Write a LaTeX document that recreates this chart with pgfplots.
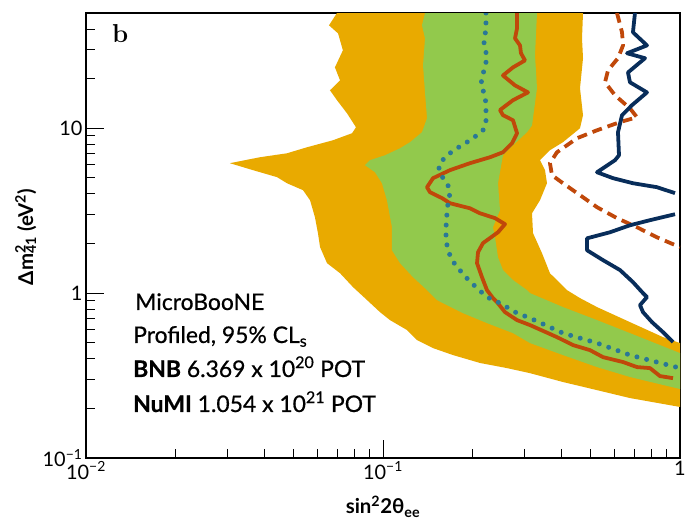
\documentclass[border=0pt]{standalone}
\usepackage{pgfplots}
\pgfplotsset{compat=1.18}
\usepackage{fontspec}
\newfontfamily\lato[FakeBold=0.6]{Lato}
\newfontfamily\latolab{Lato}

\definecolor{bandtwo}{RGB}{233,170,0}
\definecolor{bandone}{RGB}{146,201,76}
\definecolor{obsred}{RGB}{192,72,10}
\definecolor{navy}{RGB}{8,45,90}
\definecolor{medteal}{RGB}{42,120,150}

\begin{document}
\begin{tikzpicture}
\begin{axis}[
  scale only axis, width=594bp, height=445bp,
  xmode=log, ymode=log,
  xmin=0.01, xmax=1, ymin=0.1, ymax=50,
  axis line style={line width=1.1pt, black},
  tick align=inside, xtick pos=bottom, ytick pos=left,
  major tick length=18bp, minor tick length=9bp,
  every tick/.style={black, line width=0.9pt},
  xtick={0.01,0.1,1},
  xticklabels={10\textsuperscript{−2},10\textsuperscript{−1},1},
  ytick={0.1,1,10},
  yticklabels={10\textsuperscript{−1},1,10},
  minor xtick={0.02,0.03,0.04,0.05,0.06,0.07,0.08,0.09,0.2,0.3,0.4,0.5,0.6,0.7,0.8,0.9},
  minor ytick={0.2,0.3,0.4,0.5,0.6,0.7,0.8,0.9,2,3,4,5,6,7,8,9,20,30,40},
  tick label style={font=\latolab\fontsize{20}{22}\selectfont},
  xlabel={sin\textsuperscript{2}2θ\textsubscript{ee}},
  ylabel={Δm\rlap{\textsuperscript{2}}\textsubscript{41} (eV\textsuperscript{2})},
  label style={font=\latolab\bfseries\fontsize{20.5}{23}\selectfont},
  xlabel style={at={(axis description cs:0.5,-0.1258)}, anchor=base},
  ylabel style={at={(axis description cs:-0.0892,0.4966)}, anchor=base},
]
% 2 sigma expected band
\addplot[fill=bandtwo, draw=none] coordinates {
(0.0700,50) (0.0658,42.1) (0.0706,37.6) (0.0733,29.7) (0.0689,23.4) (0.0717,19.5)
(0.0663,17.0) (0.0700,14.8) (0.0757,12.3) (0.0811,10.14) (0.0787,9.33) (0.0679,8.46)
(0.0555,7.67) (0.0475,7.05) (0.0385,6.67) (0.0305,6.14) (0.0365,5.57) (0.0440,5.05)
(0.0475,4.64) (0.0538,4.21) (0.0568,3.66) (0.0590,2.89) (0.0604,2.31) (0.0614,1.90)
(0.0648,1.52) (0.0717,1.32) (0.0793,1.087) (0.0884,0.907) (0.0977,0.767) (0.1056,0.686)
(0.1205,0.597) (0.1302,0.519) (0.1474,0.464) (0.1721,0.421) (0.2122,0.377) (0.2615,0.351)
(0.3126,0.327) (0.4036,0.289) (0.5255,0.258) (0.6785,0.231) (1.0,0.204)
(1.0,0.498) (0.8765,0.541) (0.6785,0.667) (0.5255,0.823) (0.4606,0.933) (0.4164,1.043)
(0.3650,1.32) (0.3430,1.75) (0.3200,2.31) (0.3175,3.05) (0.3378,3.66) (0.3566,4.64)
(0.3512,5.57) (0.3378,6.40) (0.3650,7.36) (0.4036,8.23) (0.4606,10.0) (0.4715,12.0)
(0.4606,17.5) (0.4715,26.6) (0.4678,35.1) (0.4715,50)
};
% 1 sigma expected band
\addplot[fill=bandone, draw=none] coordinates {
(0.1385,50) (0.1353,42.1) (0.1385,35.1) (0.1364,24.1) (0.1385,16.5) (0.1407,11.5)
(0.1353,9.46) (0.1233,8.23) (0.1141,7.56) (0.1016,6.86) (0.0904,6.40) (0.0870,5.97)
(0.0940,5.41) (0.0992,4.64) (0.1031,3.66) (0.1072,2.51) (0.1072,1.82) (0.1141,1.52)
(0.1262,1.25) (0.1407,1.043) (0.1520,0.907) (0.1859,0.756) (0.2239,0.658) (0.2740,0.572)
(0.3126,0.498) (0.4036,0.421) (0.5255,0.356) (0.6785,0.310) (1.0,0.262)
(1.0,0.433) (0.6785,0.572) (0.5255,0.686) (0.4036,0.823) (0.3126,1.0) (0.3054,1.043)
(0.2740,1.20) (0.2535,1.38) (0.2439,1.65) (0.2383,2.18) (0.2346,2.51) (0.2477,3.18)
(0.2439,4.64) (0.2535,6.86) (0.2740,7.89) (0.3054,9.46) (0.3175,10.4) (0.3300,17.5)
(0.3250,27.7) (0.3300,50)
};
% observed limit
\addplot[obsred, line width=3.8pt, line join=round] coordinates {
(0.2827,50) (0.2827,40.4) (0.2783,35.1) (0.2893,31.8) (0.2915,28.5) (0.3007,25.8)
(0.2740,23.4) (0.2535,20.9) (0.2783,18.2) (0.3078,16.5) (0.2740,14.8) (0.2477,12.9)
(0.2535,12.0) (0.2740,11.18) (0.2827,9.33) (0.2719,8.11) (0.2535,7.15) (0.2292,6.67)
(0.1963,6.14) (0.1681,5.57) (0.1474,4.98) (0.1407,4.39) (0.1440,4.09) (0.1580,3.77)
(0.1681,3.51) (0.1963,3.27) (0.2122,3.05) (0.2383,2.85) (0.2575,2.62) (0.2439,2.34)
(0.2171,2.01) (0.2089,1.77) (0.2073,1.52) (0.2154,1.25) (0.2239,1.043) (0.2346,0.933)
(0.2420,0.882) (0.2575,0.767) (0.2827,0.686) (0.3126,0.640) (0.3853,0.541) (0.4363,0.484)
(0.4977,0.451) (0.5506,0.409) (0.6430,0.382) (0.7164,0.356) (0.7925,0.351) (0.8560,0.314)
(0.9472,0.305)
};
% median expected limit
\addplot[medteal, line width=5pt, line cap=round, dash pattern=on 0pt off 10pt] coordinates {
(0.2222,50) (0.2222,40.4) (0.2188,33.2) (0.2239,26.9) (0.2205,23.4) (0.2154,20.4)
(0.2138,18.2) (0.2205,15.85) (0.2222,13.8) (0.2222,12.0) (0.2222,10.72) (0.2171,9.72)
(0.2073,9.07) (0.1918,8.23) (0.1775,7.56) (0.1642,6.86) (0.1556,6.14) (0.1544,5.72)
(0.1592,4.98) (0.1655,4.51) (0.1681,4.04) (0.1655,3.51) (0.1642,3.05) (0.1630,2.51)
(0.1630,2.10) (0.1655,1.82) (0.1707,1.585) (0.1788,1.42) (0.1918,1.23) (0.2073,1.072)
(0.2239,0.946) (0.2477,0.870) (0.2827,0.756) (0.3126,0.706) (0.4036,0.572) (0.5255,0.498)
(0.6785,0.421) (1.0,0.351)
};
% dashed limit
\addplot[obsred, line width=3.8pt, dash pattern=on 10pt off 6pt] coordinates {
(0.6136,50) (0.6380,38.2) (0.6430,31.8) (0.6184,26.6) (0.5724,22.5) (0.5592,19.0)
(0.6042,15.85) (0.6785,13.2) (0.7164,11.66) (0.6281,10.9) (0.5255,9.72) (0.4501,8.70)
(0.3853,7.15) (0.3650,6.14) (0.3707,5.19) (0.4036,4.64) (0.4606,3.93) (0.5255,3.32)
(0.6136,2.85) (0.7164,2.51) (0.8367,2.18) (1.0,1.90)
};
% navy limit, two branches
\addplot[navy, line width=3.8pt, line join=round] coordinates {
(0.7054,50) (0.6945,38.2) (0.7743,31.8) (0.6632,28.5) (0.7625,26.6) (0.6683,21.8)
(0.6785,19.0) (0.7743,16.5) (0.6892,13.8) (0.6380,12.0) (0.6184,9.46) (0.6232,6.86)
(0.6042,6.40) (0.5255,5.41) (0.5949,4.98) (0.6945,4.64) (0.8367,4.39) (0.9621,4.04)
};
\addplot[navy, line width=3.8pt, line join=round] coordinates {
(0.9621,3.01) (0.7925,2.77) (0.6785,2.58) (0.5813,2.34) (0.4864,2.15) (0.4864,1.82)
(0.5506,1.585) (0.6281,1.38) (0.6945,1.166) (0.7507,1.0) (0.7743,0.946) (0.7334,0.846)
(0.7507,0.767) (0.8048,0.667) (0.8765,0.580) (0.9472,0.505)
};
\end{axis}
% panel letter and annotation text
\node[anchor=base west, inner sep=0pt, font=\bfseries\fontsize{26}{28}\selectfont] at (26bp,415bp) {b};
\begin{scope}[every node/.style={anchor=base west, inner sep=0pt, font=\lato\fontsize{23}{26}\selectfont}]
\node at (49bp,148bp) {MicroBooNE};
\node at (47bp,115bp) {Profiled, 95\% CL\textsubscript{s}};
\node at (47bp,81bp) {\textbf{BNB} 6.369 x 10\textsuperscript{20} POT};
\node at (47bp,46bp) {\textbf{NuMI} 1.054 x 10\textsuperscript{21} POT};
\end{scope}
\pgfresetboundingbox
\path[use as bounding box] (-86bp,-66bp) rectangle (600bp,458bp);
\end{tikzpicture}
\end{document}
